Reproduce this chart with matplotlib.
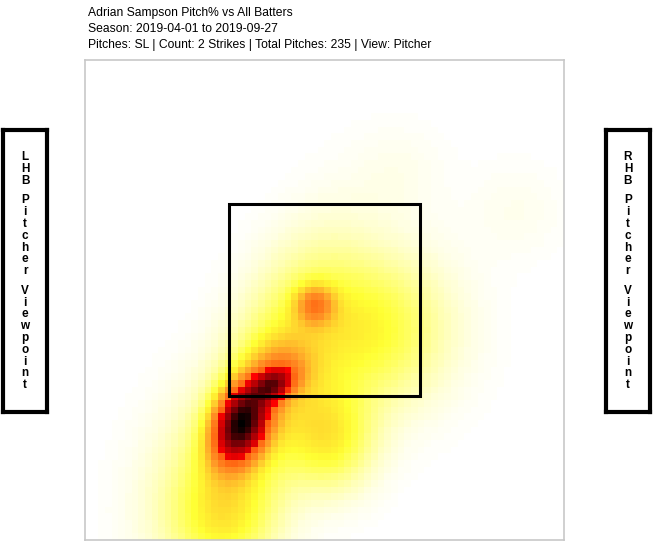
import numpy as np
import matplotlib.pyplot as plt
from matplotlib.colors import LinearSegmentedColormap
from matplotlib.patches import Rectangle

plt.rcParams['font.family'] = ['Liberation Sans', 'DejaVu Sans']

# pitch density hot spots (plate coords, feet)
spot_x = [-0.88, -0.55, -0.45, -0.10, -0.62, -1.04, 0.47, 0.79, 2.03, 0.06, -1.40]
spot_y = [1.20, 1.60, 1.80, 2.45, 1.46, 0.16, 2.19, 3.85, 3.44, 1.04, 0.73]
spot_sx = [0.20, 0.15, 0.22, 0.14, 0.50, 0.38, 0.55, 0.35, 0.35, 0.32, 0.45]
spot_sy = [0.28, 0.12, 0.20, 0.14, 0.95, 0.38, 0.55, 0.35, 0.35, 0.38, 0.65]
spot_rho = [0.3, 0.3, 0.0, 0.0, 0.6, 0.0, 0.0, 0.0, 0.0, 0.0, 0.3]
spot_w = [1.0, 0.55, 0.17, 0.30, 0.23, 0.15, 0.22, 0.02, 0.02, 0.22, 0.06]

zone_x = [-1.0, 1.0]
zone_y = [1.5, 3.5]

title_lines = ['Adrian Sampson Pitch% vs All Batters',
               'Season: 2019-04-01 to 2019-09-27',
               'Pitches: SL | Count: 2 Strikes | Total Pitches: 235 | View: Pitcher']

# density grid
n = 72
gx = np.linspace(-2.5, 2.5, n)
gy = np.linspace(0, 5, n)
X, Y = np.meshgrid(gx, gy)
Z = np.zeros_like(X)
for x0, y0, sx, sy, r, w in zip(spot_x, spot_y, spot_sx, spot_sy, spot_rho, spot_w):
    dx = (X - x0) / sx
    dy = (Y - y0) / sy
    q = (dx**2 - 2*r*dx*dy + dy**2) / (1 - r**2)
    Z += w * np.exp(-0.5 * q)
Z /= Z.max()

cmap = LinearSegmentedColormap.from_list('pitch', [
    (0.00, (1, 1, 1)),
    (0.06, (1, 1, 0.72)),
    (0.17, (1, 1, 0.2)),
    (0.34, (1, 0.58, 0.15)),
    (0.49, (1, 0.35, 0.05)),
    (0.50, (1, 0, 0)),
    (0.75, (0.55, 0, 0.03)),
    (1.00, (0, 0, 0)),
])

fig = plt.figure(figsize=(6.55, 5.54), dpi=100)
ax = fig.add_axes([85/655, 14/554, 479/655, 480/554])
ax.imshow(Z, origin='lower', extent=[-2.5, 2.5, 0, 5], cmap=cmap,
          vmin=0, vmax=1, interpolation='nearest', aspect='auto')
ax.add_patch(Rectangle((zone_x[0], zone_y[0]), zone_x[1]-zone_x[0],
                       zone_y[1]-zone_y[0], fill=False, ec='black', lw=2.2))
ax.set_xlim(-2.5, 2.5)
ax.set_ylim(0, 5)
ax.set_xticks([])
ax.set_yticks([])
for s in ax.spines.values():
    s.set_color('#c8c8c8')
    s.set_linewidth(1.2)

for i, line in enumerate(title_lines):
    fig.text(88/655, 1 - (13 + 16*i)/554, line, fontsize=8.7, va='center')

# side labels
for x0, side in [(3, 'LHB'), (606, 'RHB')]:
    bx = fig.add_axes([x0/655, (554-412)/554, 44/655, 282/554])
    bx.set_xticks([])
    bx.set_yticks([])
    for s in bx.spines.values():
        s.set_linewidth(3)
    words = [side, 'Pitcher', 'Viewpoint']
    y = 157
    for k, word in enumerate(words):
        for ch in word:
            fig.text((x0 + 22)/655, 1 - y/554, ch, fontsize=8.5, fontweight='bold',
                     ha='center', va='center')
            y += 11.8
        y += 7.9

fig.savefig('out.png', dpi=100)
